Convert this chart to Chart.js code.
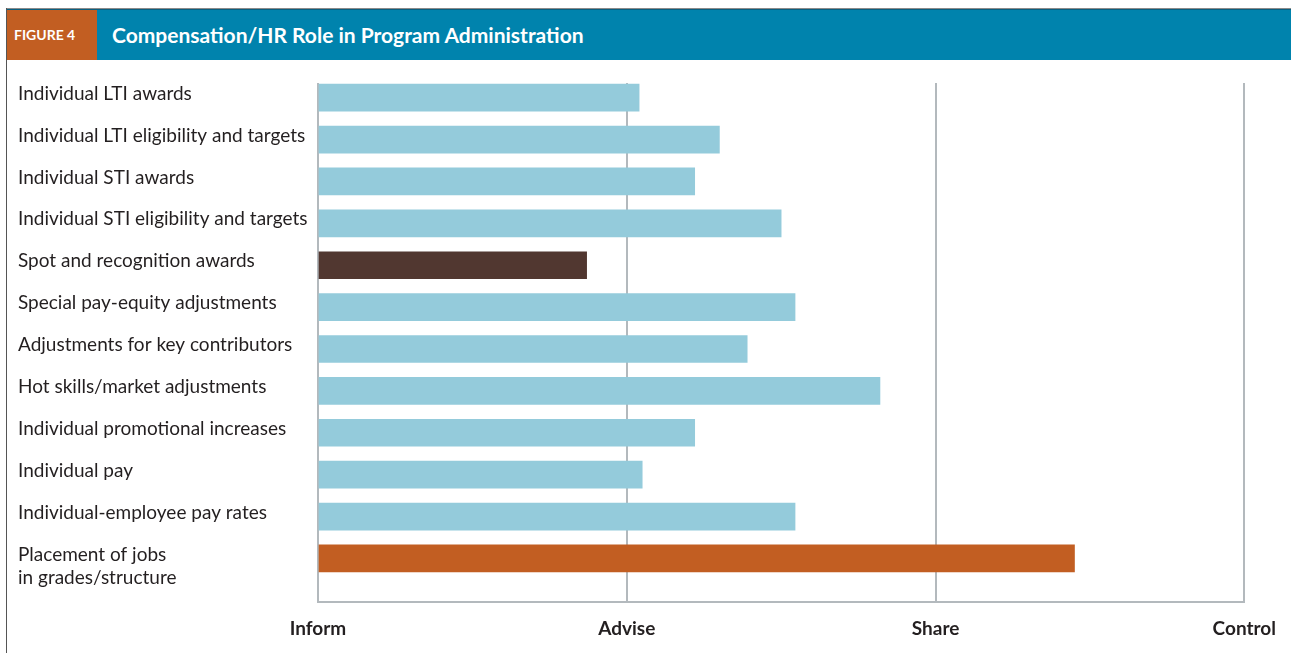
<!DOCTYPE html>
<html>
<head>
<meta charset="utf-8">
<script src="https://cdn.jsdelivr.net/npm/chart.js@4"></script>
<style>
  body { margin: 0; background: #fff; }
  #frame { position: relative; width: 1291px; height: 653px; overflow: hidden; }
  #topline { position: absolute; left: 6px; right: 0; top: 8px; height: 1px; background: #8a8a8a; }
  #leftline { position: absolute; left: 6px; top: 8px; bottom: 0; width: 1px; background: #555; }
  #header { position: absolute; left: 7px; right: 0; top: 9px; height: 51px; background: #0083ad; border-top: 1px solid #0a5f80; box-sizing: border-box; }
  #fig { position: absolute; left: 0; top: 0; width: 90px; height: 50px; background: #c25e22; color: #fff;
         font: bold 14px Lato, sans-serif; line-height: 50px; padding-left: 7px; box-sizing: border-box; }
  #title { position: absolute; left: 105px; top: 0; color: #fff; font: bold 21px Lato, sans-serif; line-height: 49px; }
  #wrap { position: absolute; left: 0; top: 60px; width: 1291px; height: 593px; }
</style>
</head>
<body>
<div id="frame">
  <div id="topline"></div>
  <div id="header">
    <div id="fig">FIGURE 4</div>
    <div id="title">Compensation/HR Role in Program Administration</div>
  </div>
  <div id="leftline"></div>
  <div id="wrap"><canvas id="chart"></canvas></div>
</div>
<script>
// categories, top to bottom
const categories = [
  "Individual LTI awards",
  "Individual LTI eligibility and targets",
  "Individual STI awards",
  "Individual STI eligibility and targets",
  "Spot and recognition awards",
  "Special pay-equity adjustments",
  "Adjustments for key contributors",
  "Hot skills/market adjustments",
  "Individual promotional increases",
  "Individual pay",
  "Individual-employee pay rates",
  ["Placement of jobs", "in grades/structure"],
];

// 0 = Inform, 1 = Advise, 2 = Share, 3 = Control
const roleValues = [1.04, 1.30, 1.22, 1.50, 0.87, 1.545, 1.39, 1.82, 1.22, 1.05, 1.545, 2.45];
const roleTicks = ["Inform", "Advise", "Share", "Control"];
const barColors = [
  "#94cbdb", "#94cbdb", "#94cbdb", "#94cbdb", "#513730", "#94cbdb",
  "#94cbdb", "#94cbdb", "#94cbdb", "#94cbdb", "#94cbdb", "#c25e22",
];

const textColor = "#231f20";
const gridColor = "#b3b9bd";

const points = roleValues.map((v, i) => ({ x: v, y: i }));

// two-line labels hang down from the bar centre, so pad them with a blank first line
function categoryLabel(v) {
  const lbl = categories[v];
  return Array.isArray(lbl) ? ["", ...lbl] : lbl;
}

new Chart(document.getElementById("chart"), {
  type: "bar",
  data: {
    datasets: [{
      data: points,
      backgroundColor: barColors,
      borderWidth: 0,
      barThickness: 27,
    }],
  },
  options: {
    indexAxis: "y",
    responsive: true,
    maintainAspectRatio: false,
    animation: false,
    layout: { padding: { left: 18, right: 44, top: 23, bottom: 0 } },
    plugins: { legend: { display: false }, tooltip: { enabled: false } },
    scales: {
      x: {
        type: "linear",
        min: 0,
        max: 3,
        afterBuildTicks: (axis) => { axis.ticks = roleTicks.map((_, i) => ({ value: i })); },
        afterFit: (axis) => { axis.height = 51; },
        grid: { color: gridColor, lineWidth: 2, drawTicks: false },
        border: { display: true, color: gridColor, width: 2 },
        ticks: {
          callback: (v) => roleTicks[v],
          color: textColor,
          font: { family: "Lato", size: 19, weight: "bold" },
          padding: 15,
          maxRotation: 0,
          autoSkip: false,
        },
      },
      y: {
        type: "linear",
        reverse: true,
        offset: false,
        min: -0.35,
        max: 12.04,
        afterBuildTicks: (axis) => { axis.ticks = categories.map((_, i) => ({ value: i })); },
        afterFit: (axis) => {
          axis.width = 300;
          axis.paddingTop = 0;
          axis.paddingBottom = 0;
        },
        grid: { display: false },
        border: { display: false },
        ticks: {
          callback: categoryLabel,
          color: textColor,
          font: { family: "Lato", size: 19, lineHeight: 1.25 },
          crossAlign: "far",
          labelOffset: -4,
          autoSkip: false,
          padding: 0,
        },
      },
    },
  },
});
</script>
</body>
</html>
